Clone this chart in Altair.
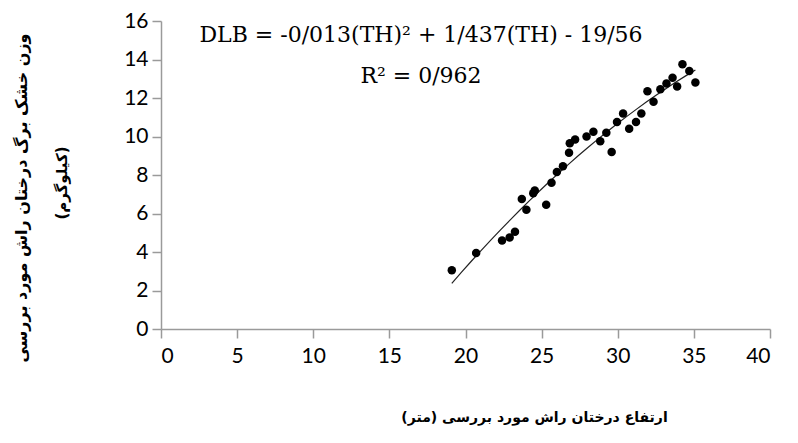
import altair as alt
import pandas as pd

# Tree height (m) and dry leaf biomass (kg)
th = [19.1, 20.7, 22.4, 22.9, 23.25, 23.7, 24.0, 24.45, 24.55, 25.3, 25.65, 26.0,
      26.4, 26.8, 26.85, 27.2, 27.95, 28.4, 28.85, 29.25, 29.6, 29.95, 30.35,
      30.75, 31.2, 31.55, 31.95, 32.35, 32.8, 33.2, 33.6, 33.9, 34.25, 34.7, 35.1]
dlb = [3.05, 3.95, 4.6, 4.75, 5.05, 6.75, 6.2, 7.05, 7.2, 6.45, 7.6, 8.15,
       8.45, 9.15, 9.65, 9.85, 10.0, 10.25, 9.75, 10.2, 9.2, 10.75, 11.2,
       10.4, 10.75, 11.2, 12.35, 11.8, 12.45, 12.75, 13.05, 12.6, 13.75, 13.4, 12.8]

x_ticks = [0, 5, 10, 15, 20, 25, 30, 35, 40]
y_ticks = [0, 2, 4, 6, 8, 10, 12, 14, 16]

equation = ["DLB = -0/013(TH)\u00b2 + 1/437(TH) - 19/56"]
r2 = ["R\u00b2 = 0/962"]

x_title = "ارتفاع درختان راش مورد بررسی (متر)"
y_title_1 = ["وزن خشک برگ درختان راش مورد بررسی"]
y_title_2 = ["(کیلوگرم)"]

df = pd.DataFrame({"th": th, "dlb": dlb})

axis_common = dict(
    grid=False,
    domainColor="#9a9a9a",
    domainWidth=1.5,
    tickColor="#9a9a9a",
    tickWidth=1.5,
    tickSize=9,
    labelFont="Lato",
    labelFontSize=21,
    labelColor="#000000",
    labelOverlap=False,
)

x_enc = alt.X("th:Q", scale=alt.Scale(domain=[0, 40], nice=False, zero=False),
              axis=alt.Axis(values=x_ticks, title=x_title, titleFont="DejaVu Sans",
                            titleFontSize=14, titleFontWeight="bold", titleColor="#000000",
                            titleX=373, titleY=88, titleBaseline="middle",
                            titleAnchor="start", titleAlign="center",
                            labelPadding=7, **axis_common))
y_enc = alt.Y("dlb:Q", scale=alt.Scale(domain=[0, 16], nice=False),
              axis=alt.Axis(values=y_ticks, title=None, labelPadding=4, **axis_common))

base = alt.Chart(df).encode(x=x_enc, y=y_enc)

points = base.mark_circle(size=72, color="#000000", opacity=1)

trend = base.transform_regression(
    "th", "dlb", method="poly", order=2
).mark_line(color="#222222", strokeWidth=1.2)

eq_text = alt.Chart(pd.DataFrame({"t": equation})).mark_text(
    font="DejaVu Serif", fontSize=22, align="center", baseline="alphabetic", color="#000000"
).encode(text="t:N", x=alt.value(260), y=alt.value(21))

r2_text = alt.Chart(pd.DataFrame({"t": r2})).mark_text(
    font="DejaVu Serif", fontSize=22, align="center", baseline="alphabetic", color="#000000"
).encode(text="t:N", x=alt.value(260), y=alt.value(62))

yt1 = alt.Chart(pd.DataFrame({"t": y_title_1})).mark_text(
    font="DejaVu Sans", fontSize=16, fontWeight="bold", angle=270,
    align="center", baseline="middle", color="#000000"
).encode(text="t:N", x=alt.value(-139), y=alt.value(177))

yt2 = alt.Chart(pd.DataFrame({"t": y_title_2})).mark_text(
    font="DejaVu Sans", fontSize=15, fontWeight="bold", angle=270,
    align="center", baseline="middle", color="#000000"
).encode(text="t:N", x=alt.value(-99), y=alt.value(162))

chart = alt.layer(trend, points, eq_text, r2_text, yt1, yt2).properties(
    width=609, height=308,
    autosize=alt.AutoSizeParams(type="none"),
    padding={"left": 153, "top": 13, "right": 20, "bottom": 100},
).configure_view(stroke=None)

chart.save("out.html", embed_options={"renderer": "svg", "actions": False})
